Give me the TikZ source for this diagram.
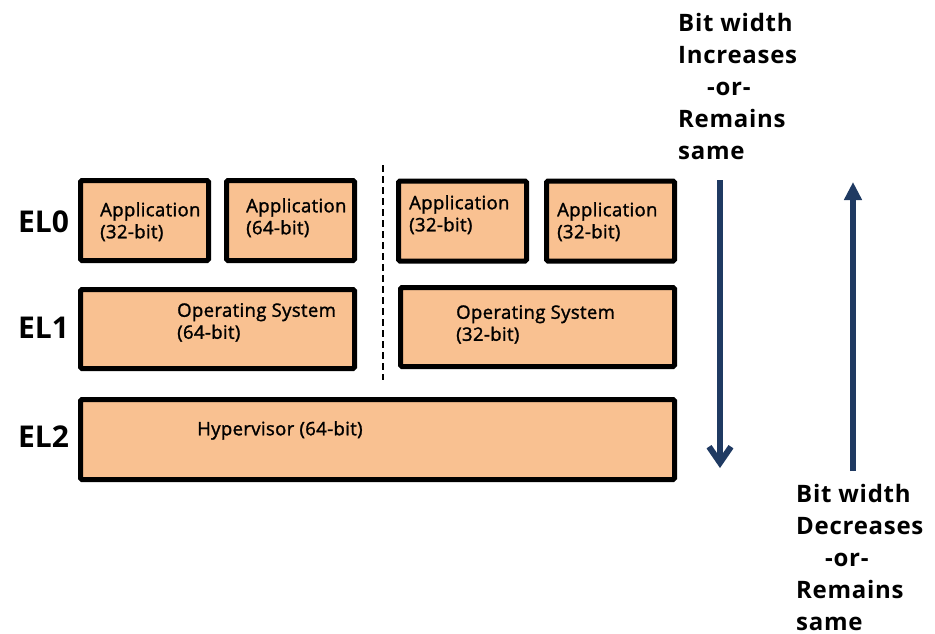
\documentclass[tikz,border=0pt]{standalone}
\usepackage{fontspec}
\setmainfont{Open Sans}
\newfontfamily\boxfont[FakeBold=1.5,LetterSpace=2]{Open Sans}
\newfontfamily\notefont[LetterSpace=3]{Open Sans}
\usetikzlibrary{positioning,arrows.meta}
\definecolor{peach}{RGB}{249,193,145}
\definecolor{navy}{RGB}{31,58,98}
\tikzstyle{layer}=[draw=black,line width=5pt,fill=peach,rounded corners=1.5pt,inner sep=0pt]
\tikzstyle{boxtext}=[font=\boxfont\fontsize{18.5}{22}\selectfont,align=left,anchor=north west,inner sep=0pt]
\tikzstyle{eltext}=[font=\bfseries\fontsize{30}{36}\selectfont,anchor=west,inner sep=0pt]
\tikzstyle{note}=[font=\notefont\bfseries\fontsize{24}{32}\selectfont,align=left,anchor=north west,inner sep=0pt]
\tikzstyle{flow}=[draw=navy,line width=6pt]

\begin{document}
\begin{tikzpicture}[x=1pt,y=-1pt]
  \useasboundingbox (0,0) rectangle (935,634);

  % exception level boxes
  \foreach \pos / \name / \w / \h in {{(144.5,220.5)/app1/128/80}, {(290.5,220.5)/app2/128/80},
                                      {(462.5,221)/app3/128/80}, {(610.5,221)/app4/128/80},
                                      {(217.5,329)/os1/274/79}, {(537.5,327)/os2/274/79},
                                      {(377.5,439.5)/hyp/594/80}}
    \node[layer,minimum width=\w,minimum height=\h] (\name) at \pos {};

  % texts inside the boxes
  \node[boxtext] (app1txt) at (100,202) {Application\\(32-bit)};
  \node[boxtext] (app2txt) at (246,198) {Application\\(64-bit)};
  \node[boxtext] (app3txt) at (409,195) {Application\\(32-bit)};
  \node[boxtext] (app4txt) at (557,202) {Application\\(32-bit)};
  \node[boxtext] (os1txt) at (177,303) {Operating System\\(64-bit)};
  \node[boxtext] (os2txt) at (456,305) {Operating System\\(32-bit)};
  \node[boxtext] (hyptxt) at (197,421) {Hypervisor (64-bit)};

  \foreach \y / \name / \txt in {222/el0/EL0, 328/el1/EL1, 437/el2/EL2}
    \node[eltext] (\name) at (18,\y) {\txt};

  % notes beside the arrows
  \node[note] (incr) at (678,13) {Bit width\\Increases\\\hspace{29pt}-or-\\Remains\\same};
  \node[note] (decr) at (796,484) {Bit width\\Decreases\\\hspace{29pt}-or-\\Remains\\same};

  % divider and arrows
  \coordinate (divtop) at (383,165);
  \coordinate (divbot) at (383,380);
  \draw[line width=2.5pt,dash pattern=on 7pt off 4pt] (divtop) -- (divbot);

  \coordinate (dstart) at (720,180);
  \coordinate (dend) at (720,468);
  \coordinate (ustart) at (853,471);
  \coordinate (uend) at (853,182);
  \path[flow,-{Straight Barb[length=16pt,width=22pt]}] (dstart) -- (dend);
  \path[flow,-{Triangle[length=18pt,width=17pt]},fill=navy] (ustart) -- (uend);
\end{tikzpicture}
\end{document}
